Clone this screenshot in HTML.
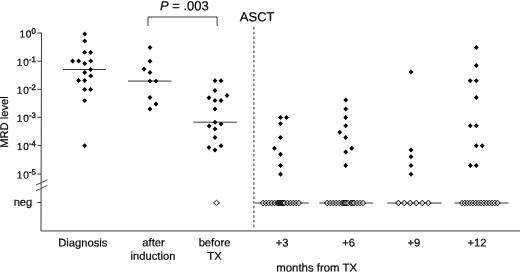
<!DOCTYPE html>
<html><head><meta charset="utf-8"><title>MRD level</title>
<style>
html,body{margin:0;padding:0;background:#fff;}
svg{display:block;font-family:"Liberation Sans",Arial,sans-serif;fill:#000;}
text{stroke:#000;stroke-width:0.2px}
.a{font-size:11.2px}
.b{font-size:13px}
.e{font-size:7.9px;stroke-width:0.3px}
.t{font-size:10.1px}
</style></head><body>
<svg width="520" height="272" viewBox="0 0 520 272">
<rect width="520" height="272" fill="#fff"/>
<g stroke="#3a3a3a" stroke-width="1" fill="none">
<path d="M41.5 32.5L41.0 230.95H520"/>
<path d="M37.4 33H41.0"/>
<path d="M37.4 61.2H41.0"/>
<path d="M37.4 89.3H41.0"/>
<path d="M37.4 117.3H41.0"/>
<path d="M37.4 145.6H41.0"/>
<path d="M37.4 174.0H41.0"/>
<path d="M37.4 202.5H41.0"/>
<path d="M36 185L47.6 179.8M36 190.8L47.6 185.4" stroke-width="0.9"/>
<path d="M148 26V17H217.1V26"/>
<path d="M253.9 27.05V228" stroke-dasharray="2.5 2.205" stroke-width="1.1"/>
<path d="M63 69.5H106"/>
<path d="M128 81.1H171.5"/>
<path d="M193.4 122.2H237.1"/>
<path d="M255 203H308.75" stroke="#222" stroke-width="0.9"/>
<path d="M319.4 203H373.1" stroke="#222" stroke-width="0.9"/>
<path d="M387.25 203H441.5" stroke="#222" stroke-width="0.9"/>
<path d="M454.4 203H508.5" stroke="#222" stroke-width="0.9"/>
</g>
<path d="M82.25 34L84.7 31.55L87.15 34L84.7 36.45ZM82.25 41L84.7 38.55L87.15 41L84.7 43.45ZM82.25 52.4L84.7 49.95L87.15 52.4L84.7 54.85ZM88.25 52.4L90.7 49.95L93.15 52.4L90.7 54.85ZM70.15 61L72.6 58.55L75.05 61L72.6 63.45ZM76.15 61L78.6 58.55L81.05 61L78.6 63.45ZM88.25 61L90.7 58.55L93.15 61L90.7 63.45ZM82.25 63.6L84.7 61.15L87.15 63.6L84.7 66.05ZM88.25 69.5L90.7 67.05L93.15 69.5L90.7 71.95ZM82.25 72.5L84.7 70.05L87.15 72.5L84.7 74.95ZM88.25 75.9L90.7 73.45L93.15 75.9L90.7 78.35ZM76.15 80.5L78.6 78.05L81.05 80.5L78.6 82.95ZM82.25 80.5L84.7 78.05L87.15 80.5L84.7 82.95ZM82.25 89.4L84.7 86.95L87.15 89.4L84.7 91.85ZM88.25 89.4L90.7 86.95L93.15 89.4L90.7 91.85ZM82.25 100.6L84.7 98.15L87.15 100.6L84.7 103.05ZM82.25 145.75L84.7 143.30L87.15 145.75L84.7 148.20ZM147.55 47.5L150 45.05L152.45 47.5L150 49.95ZM147.55 61.25L150 58.80L152.45 61.25L150 63.70ZM141.55 69.25L144 66.80L146.45 69.25L144 71.70ZM147.55 72.5L150 70.05L152.45 72.5L150 74.95ZM147.55 81.1L150 78.65L152.45 81.1L150 83.55ZM153.55 81.1L156 78.65L158.45 81.1L156 83.55ZM147.55 97.5L150 95.05L152.45 97.5L150 99.95ZM153.55 104L156 101.55L158.45 104L156 106.45ZM147.55 109L150 106.55L152.45 109L150 111.45ZM212.55 80.75L215 78.30L217.45 80.75L215 83.20ZM218.55 80.75L221 78.30L223.45 80.75L221 83.20ZM212.55 90.5L215 88.05L217.45 90.5L215 92.95ZM224.55 95.5L227 93.05L229.45 95.5L227 97.95ZM206.55 97.75L209 95.30L211.45 97.75L209 100.20ZM212.55 100.5L215 98.05L217.45 100.5L215 102.95ZM218.55 100.5L221 98.05L223.45 100.5L221 102.95ZM212.55 109L215 106.55L217.45 109L215 111.45ZM212.55 122.2L215 119.75L217.45 122.2L215 124.65ZM218.65 124.1L221.1 121.65L223.55 124.1L221.1 126.55ZM206.75 126L209.2 123.55L211.65 126L209.2 128.45ZM212.55 128.9L215 126.45L217.45 128.9L215 131.35ZM212.55 137.5L215 135.05L217.45 137.5L215 139.95ZM218.55 145.75L221 143.30L223.45 145.75L221 148.20ZM206.55 147.5L209 145.05L211.45 147.5L209 149.95ZM212.55 150L215 147.55L217.45 150L215 152.45ZM278.05 117.5L280.5 115.05L282.95 117.5L280.5 119.95ZM284.05 117.5L286.5 115.05L288.95 117.5L286.5 119.95ZM278.05 123.75L280.5 121.30L282.95 123.75L280.5 126.20ZM278.05 137.5L280.5 135.05L282.95 137.5L280.5 139.95ZM272.05 148.25L274.5 145.80L276.95 148.25L274.5 150.70ZM278.05 154.25L280.5 151.80L282.95 154.25L280.5 156.70ZM278.05 165.5L280.5 163.05L282.95 165.5L280.5 167.95ZM278.05 174.25L280.5 171.80L282.95 174.25L280.5 176.70ZM343.30 100L345.75 97.55L348.20 100L345.75 102.45ZM343.30 109L345.75 106.55L348.20 109L345.75 111.45ZM343.30 117.5L345.75 115.05L348.20 117.5L345.75 119.95ZM343.30 125.75L345.75 123.30L348.20 125.75L345.75 128.20ZM337.30 132.25L339.75 129.80L342.20 132.25L339.75 134.70ZM343.30 137.5L345.75 135.05L348.20 137.5L345.75 139.95ZM349.30 148.25L351.75 145.80L354.20 148.25L351.75 150.70ZM343.30 152L345.75 149.55L348.20 152L345.75 154.45ZM343.30 165.5L345.75 163.05L348.20 165.5L345.75 167.95ZM408.55 72L411 69.55L413.45 72L411 74.45ZM408.55 150L411 147.55L413.45 150L411 152.45ZM408.55 156.75L411 154.30L413.45 156.75L411 159.20ZM408.55 165.5L411 163.05L413.45 165.5L411 167.95ZM408.55 174.25L411 171.80L413.45 174.25L411 176.70ZM473.80 47.5L476.25 45.05L478.70 47.5L476.25 49.95ZM473.80 65.5L476.25 63.05L478.70 65.5L476.25 67.95ZM467.80 80.75L470.25 78.30L472.70 80.75L470.25 83.20ZM473.80 80.75L476.25 78.30L478.70 80.75L476.25 83.20ZM473.80 97.5L476.25 95.05L478.70 97.5L476.25 99.95ZM467.80 125.75L470.25 123.30L472.70 125.75L470.25 128.20ZM473.80 125.75L476.25 123.30L478.70 125.75L476.25 128.20ZM473.80 145.75L476.25 143.30L478.70 145.75L476.25 148.20ZM479.80 145.75L482.25 143.30L484.70 145.75L482.25 148.20ZM467.80 165.5L470.25 163.05L472.70 165.5L470.25 167.95ZM473.80 165.5L476.25 163.05L478.70 165.5L476.25 167.95Z" fill="#000"/>
<g fill="#fff" fill-opacity="0.5" stroke="#000" stroke-width="0.9"><path d="M213.40 202.9L216.50 200.35L219.60 202.9L216.50 205.45Z"/></g>
<g fill="#fff" fill-opacity="0.5" stroke="#000" stroke-width="1.0"><path d="M260.45 203.0L263.10 200.15L265.75 203.0L263.10 205.85Z"/><path d="M263.30 203.0L265.95 200.15L268.60 203.0L265.95 205.85Z"/><path d="M266.15 203.0L268.80 200.15L271.45 203.0L268.80 205.85Z"/><path d="M269.00 203.0L271.65 200.15L274.30 203.0L271.65 205.85Z"/><path d="M271.85 203.0L274.50 200.15L277.15 203.0L274.50 205.85Z"/><path d="M274.70 203.0L277.35 200.15L280.00 203.0L277.35 205.85Z"/><path d="M275.85 203.0L278.50 200.15L281.15 203.0L278.50 205.85Z"/><path d="M276.85 203.0L279.50 200.15L282.15 203.0L279.50 205.85Z"/><path d="M277.85 203.0L280.50 200.15L283.15 203.0L280.50 205.85Z"/><path d="M278.85 203.0L281.50 200.15L284.15 203.0L281.50 205.85Z"/><path d="M279.85 203.0L282.50 200.15L285.15 203.0L282.50 205.85Z"/><path d="M280.85 203.0L283.50 200.15L286.15 203.0L283.50 205.85Z"/><path d="M282.00 203.0L284.65 200.15L287.30 203.0L284.65 205.85Z"/><path d="M284.85 203.0L287.50 200.15L290.15 203.0L287.50 205.85Z"/><path d="M287.70 203.0L290.35 200.15L293.00 203.0L290.35 205.85Z"/><path d="M290.55 203.0L293.20 200.15L295.85 203.0L293.20 205.85Z"/><path d="M293.40 203.0L296.05 200.15L298.70 203.0L296.05 205.85Z"/><path d="M296.25 203.0L298.90 200.15L301.55 203.0L298.90 205.85Z"/></g>
<g fill="#fff" fill-opacity="0.5" stroke="#000" stroke-width="1.0"><path d="M324.55 203.0L327.20 200.15L329.85 203.0L327.20 205.85Z"/><path d="M327.53 203.0L330.18 200.15L332.83 203.0L330.18 205.85Z"/><path d="M330.52 203.0L333.17 200.15L335.82 203.0L333.17 205.85Z"/><path d="M333.50 203.0L336.15 200.15L338.80 203.0L336.15 205.85Z"/><path d="M336.48 203.0L339.13 200.15L341.78 203.0L339.13 205.85Z"/><path d="M339.47 203.0L342.12 200.15L344.77 203.0L342.12 205.85Z"/><path d="M340.55 203.0L343.20 200.15L345.85 203.0L343.20 205.85Z"/><path d="M342.05 203.0L344.70 200.15L347.35 203.0L344.70 205.85Z"/><path d="M342.45 203.0L345.10 200.15L347.75 203.0L345.10 205.85Z"/><path d="M343.55 203.0L346.20 200.15L348.85 203.0L346.20 205.85Z"/><path d="M345.43 203.0L348.08 200.15L350.73 203.0L348.08 205.85Z"/><path d="M348.42 203.0L351.07 200.15L353.72 203.0L351.07 205.85Z"/><path d="M349.15 203.0L351.80 200.15L354.45 203.0L351.80 205.85Z"/><path d="M350.65 203.0L353.30 200.15L355.95 203.0L353.30 205.85Z"/><path d="M351.40 203.0L354.05 200.15L356.70 203.0L354.05 205.85Z"/><path d="M354.38 203.0L357.03 200.15L359.68 203.0L357.03 205.85Z"/><path d="M357.37 203.0L360.02 200.15L362.67 203.0L360.02 205.85Z"/><path d="M360.35 203.0L363.00 200.15L365.65 203.0L363.00 205.85Z"/></g>
<g fill="#fff" fill-opacity="0.5" stroke="#000" stroke-width="1.0"><path d="M395.75 203.0L398.40 200.15L401.05 203.0L398.40 205.85Z"/><path d="M401.65 203.0L404.30 200.15L406.95 203.0L404.30 205.85Z"/><path d="M407.55 203.0L410.20 200.15L412.85 203.0L410.20 205.85Z"/><path d="M413.65 203.0L416.30 200.15L418.95 203.0L416.30 205.85Z"/><path d="M419.65 203.0L422.30 200.15L424.95 203.0L422.30 205.85Z"/><path d="M425.75 203.0L428.40 200.15L431.05 203.0L428.40 205.85Z"/></g>
<g fill="#fff" fill-opacity="0.5" stroke="#000" stroke-width="1.0"><path d="M459.45 203.0L462.10 200.15L464.75 203.0L462.10 205.85Z"/><path d="M462.17 203.0L464.82 200.15L467.47 203.0L464.82 205.85Z"/><path d="M464.90 203.0L467.55 200.15L470.20 203.0L467.55 205.85Z"/><path d="M467.62 203.0L470.27 200.15L472.92 203.0L470.27 205.85Z"/><path d="M470.34 203.0L472.99 200.15L475.64 203.0L472.99 205.85Z"/><path d="M473.07 203.0L475.72 200.15L478.37 203.0L475.72 205.85Z"/><path d="M475.79 203.0L478.44 200.15L481.09 203.0L478.44 205.85Z"/><path d="M478.51 203.0L481.16 200.15L483.81 203.0L481.16 205.85Z"/><path d="M481.23 203.0L483.88 200.15L486.53 203.0L483.88 205.85Z"/><path d="M483.96 203.0L486.61 200.15L489.26 203.0L486.61 205.85Z"/><path d="M486.68 203.0L489.33 200.15L491.98 203.0L489.33 205.85Z"/><path d="M489.40 203.0L492.05 200.15L494.70 203.0L492.05 205.85Z"/><path d="M492.13 203.0L494.78 200.15L497.43 203.0L494.78 205.85Z"/><path d="M494.85 203.0L497.50 200.15L500.15 203.0L497.50 205.85Z"/></g>
<text transform="translate(36.0 37.50) matrix(1 0.0006 0 1 0 0)" class="t" text-anchor="end"><tspan letter-spacing="0.7">10</tspan><tspan class="e" dy="-3.8" dx="-0.5">0</tspan></text>
<text transform="translate(36.0 65.70) matrix(1 0.0006 0 1 0 0)" class="t" text-anchor="end"><tspan letter-spacing="0.7">10</tspan><tspan class="e" dy="-3.8" dx="-0.5">-1</tspan></text>
<text transform="translate(36.0 93.80) matrix(1 0.0006 0 1 0 0)" class="t" text-anchor="end"><tspan letter-spacing="0.7">10</tspan><tspan class="e" dy="-3.8" dx="-0.5">-2</tspan></text>
<text transform="translate(36.0 121.80) matrix(1 0.0006 0 1 0 0)" class="t" text-anchor="end"><tspan letter-spacing="0.7">10</tspan><tspan class="e" dy="-3.8" dx="-0.5">-3</tspan></text>
<text transform="translate(36.0 150.10) matrix(1 0.0006 0 1 0 0)" class="t" text-anchor="end"><tspan letter-spacing="0.7">10</tspan><tspan class="e" dy="-3.8" dx="-0.5">-4</tspan></text>
<text transform="translate(36.0 178.50) matrix(1 0.0006 0 1 0 0)" class="t" text-anchor="end"><tspan letter-spacing="0.7">10</tspan><tspan class="e" dy="-3.8" dx="-0.5">-5</tspan></text>
<text transform="translate(32.3 205.8) matrix(1 0.0006 0 1 0 0)" class="a" text-anchor="end">neg</text>
<text class="a" text-anchor="middle" transform="translate(8.1 122) rotate(-90) matrix(1 0.0006 0 1 0 0)">MRD level</text>
<text transform="translate(82.8 246.4) matrix(1 0.0006 0 1 0 0)" class="a" text-anchor="middle">Diagnosis</text>
<text transform="translate(153.5 246.2) matrix(1 0.0006 0 1 0 0)" class="a" text-anchor="middle">after</text>
<text transform="translate(153 259.7) matrix(1 0.0006 0 1 0 0)" class="a" text-anchor="middle">induction</text>
<text transform="translate(214.5 246.2) matrix(1 0.0006 0 1 0 0)" class="a" text-anchor="middle">before</text>
<text transform="translate(214.5 259.7) matrix(1 0.0006 0 1 0 0)" class="a" text-anchor="middle">TX</text>
<text transform="translate(282 246.6) matrix(1 0.0006 0 1 0 0)" class="a" text-anchor="middle">+3</text>
<text transform="translate(348.6 246.6) matrix(1 0.0006 0 1 0 0)" class="a" text-anchor="middle">+6</text>
<text transform="translate(413.8 246.6) matrix(1 0.0006 0 1 0 0)" class="a" text-anchor="middle">+9</text>
<text transform="translate(477 246.6) matrix(1 0.0006 0 1 0 0)" class="a" text-anchor="middle">+12</text>
<text transform="translate(316.7 271.5) matrix(1 0.0006 0 1 0 0)" class="a" text-anchor="middle" style="font-size:11.4px">months from TX</text>
<text transform="translate(160 10.2) matrix(1 0.0006 0 1 0 0)" class="b"><tspan font-style="italic">P</tspan> = .003</text>
<text transform="translate(239.8 21.2) matrix(1 0.0006 0 1 0 0)" class="b">ASCT</text>
</svg></body></html>
